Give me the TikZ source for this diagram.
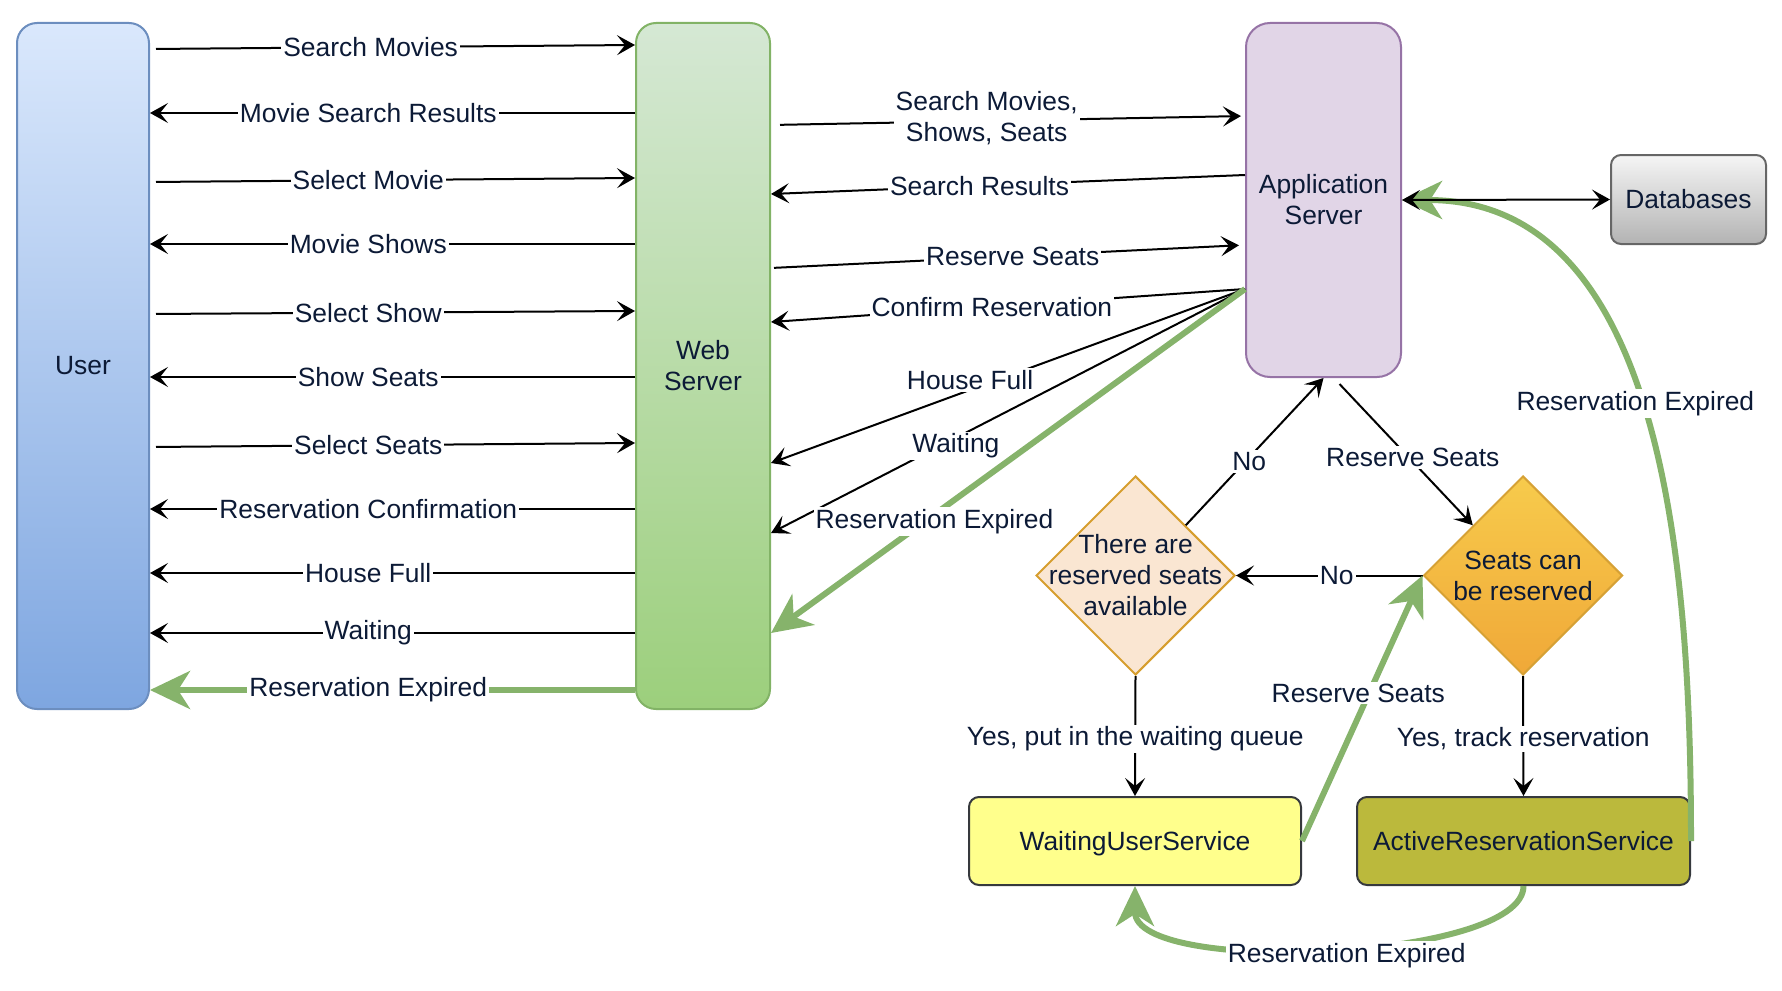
\documentclass[tikz,border=0pt]{standalone}
\usepackage{fontspec}
\setmainfont{Liberation Sans}
\usetikzlibrary{arrows.meta,shapes.geometric}

\definecolor{ink}{HTML}{0C1A36}
\definecolor{grn}{HTML}{86B36B}
\definecolor{usertop}{HTML}{DAE8FC}
\definecolor{userbot}{HTML}{7EA6E0}
\definecolor{userline}{HTML}{6C8EBF}
\definecolor{webtop}{HTML}{D5E8D4}
\definecolor{webbot}{HTML}{9CCF7C}
\definecolor{webline}{HTML}{82B366}
\definecolor{appfill}{HTML}{E1D5E7}
\definecolor{appline}{HTML}{9673A6}
\definecolor{dbtop}{HTML}{F5F5F5}
\definecolor{dbbot}{HTML}{B3B3B3}
\definecolor{dbline}{HTML}{666666}
\definecolor{peach}{HTML}{FAE6D2}
\definecolor{peachline}{HTML}{D69E2E}
\definecolor{seattop}{HTML}{F7CB4C}
\definecolor{seatbot}{HTML}{F0A838}
\definecolor{seatline}{HTML}{D6A135}
\definecolor{waitfill}{HTML}{FFFF8C}
\definecolor{actfill}{HTML}{BBB93C}
\definecolor{svcline}{HTML}{36393D}

\begin{document}
\begin{tikzpicture}[x=0.5pt,y=-0.5pt,>={Stealth[length=9pt,width=10pt,inset=4pt]},
  font=\fontsize{13.2}{15.5}\selectfont, text=ink,
  box/.style={draw, line width=1pt, align=center, inner sep=0pt},
  dia/.style={shape=diamond, draw, line width=1pt, inner sep=0pt, minimum width=99.5pt, minimum height=99.5pt},
  lbl/.style={fill=white, inner sep=1pt, align=center},
  msg/.style={->, line width=1pt},
  expired/.style={-{Stealth[length=20pt,width=19pt,inset=6pt]}, draw=grn, line width=3pt}]
   \useasboundingbox (0,0) rectangle (1782,990);

   % ノード
   \node[box, rounded corners=10pt, draw=userline, top color=usertop, bottom color=userbot,
         minimum width=66pt, minimum height=343pt] (user) at (83,366) {User};
   \node[box, rounded corners=10pt, draw=webline, top color=webtop, bottom color=webbot,
         minimum width=67pt, minimum height=343pt] (web) at (703,366) {Web\\Server};
   \node[box, rounded corners=12pt, draw=appline, fill=appfill,
         minimum width=77.5pt, minimum height=177pt] (app) at (1323.5,200) {Application\\Server};
   \node[box, rounded corners=5pt, draw=dbline, top color=dbtop, bottom color=dbbot,
         minimum width=77.5pt, minimum height=44.5pt] (db) at (1688.5,199.5) {Databases};
   \node[dia, draw=peachline, fill=peach,
         label={[align=center]center:There are\\reserved seats\\available}] (avail) at (1135.5,575.5) {};
   \node[dia, draw=seatline, top color=seattop, bottom color=seatbot,
         label={[align=center]center:Seats can\\be reserved}] (seats) at (1523,575.5) {};
   \node[box, rounded corners=5pt, draw=svcline, fill=waitfill, text depth=0pt,
         minimum width=166pt, minimum height=44pt] (wait) at (1135,841) {WaitingUserService};
   \node[box, rounded corners=5pt, draw=svcline, fill=actfill,
         minimum width=166.5pt, minimum height=44pt] (act) at (1523.5,841) {ActiveReservationService};

   % ユーザーとWebサーバー
   \draw[msg, shorten <=3pt] (user.east |- 0,49) -- node[lbl, pos=0.455] {Search Movies} (web.west |- 0,45);
   \draw[msg] (web.west |- 0,113) -- node[lbl, pos=0.55] {Movie Search Results} (user.east |- 0,113);
   \draw[msg, shorten <=3pt] (user.east |- 0,182) -- node[lbl, pos=0.45] {Select Movie} (web.west |- 0,178);
   \draw[msg] (web.west |- 0,244) -- node[lbl, pos=0.55] {Movie Shows} (user.east |- 0,244);
   \draw[msg, shorten <=3pt] (user.east |- 0,314) -- node[lbl, pos=0.45] {Select Show} (web.west |- 0,311);
   \draw[msg] (web.west |- 0,377) -- node[lbl, pos=0.55] {Show Seats} (user.east |- 0,377);
   \draw[msg, shorten <=3pt] (user.east |- 0,447) -- node[lbl, pos=0.45] {Select Seats} (web.west |- 0,443);
   \draw[msg] (web.west |- 0,509) -- node[lbl, pos=0.55] {Reservation Confirmation} (user.east |- 0,509);
   \draw[msg] (web.west |- 0,573) -- node[lbl, pos=0.55] {House Full} (user.east |- 0,573);
   \draw[msg] (web.west |- 0,633) -- node[lbl, pos=0.55] {Waiting} (user.east |- 0,633);
   \draw[expired] (web.west |- 0,690) -- node[lbl, pos=0.55] {Reservation Expired} (user.east |- 0,690);

   % Webサーバーとアプリケーションサーバー
   \draw[msg, shorten <=4.5pt, shorten >=2pt] (web.east |- 0,125) -- node[lbl, pos=0.455, yshift=1.5pt] {Search Movies,\\Shows, Seats} (app.west |- 0,116);
   \draw[msg] (app.west |- 0,175) -- node[lbl, pos=0.56] {Search Results} (web.east |- 0,194);
   \draw[msg, shorten <=1.5pt, shorten >=3pt] (web.east |- 0,268) -- node[lbl, pos=0.51] {Reserve Seats} (app.west |- 0,245);
   \coordinate (fan) at (app.west |- 0,289);
   \draw[msg] (fan) -- node[lbl, pos=0.534] {Confirm Reservation} (web.east |- 0,322);
   \draw[msg] (fan) -- node[lbl, pos=0.58, yshift=5pt] {House Full} (web.east |- 0,463);
   \draw[msg] (fan) -- node[lbl, pos=0.61, yshift=-4pt] {Waiting} (web.east |- 0,533);
   \draw[expired] (fan) -- node[lbl, pos=0.655, yshift=-3.5pt] {Reservation Expired} (web.east |- 0,633);

   % 予約の判定
   \draw[expired] (act.east) .. controls +(0,-273) and +(262,0) .. node[lbl, pos=0.51, xshift=-3.5pt, yshift=3.5pt] {Reservation Expired} (app.east);
   \draw[<->, line width=1pt] (app.east) -- (db.west);
   \draw[msg] (avail.north east) -- node[lbl, pos=0.46, yshift=-2pt] {No} (app.south);
   \draw[msg] ([xshift=8pt,yshift=-3pt]app.south) -- node[lbl, pos=0.55, yshift=2pt] {Reserve Seats} (seats.north west);
   \draw[msg] (seats.west) -- node[lbl, pos=0.46] {No} (avail.east);
   \draw[msg] (avail.south) -- node[lbl, yshift=-1.5pt] {Yes, put in the waiting queue} (wait.north);
   \draw[msg] (seats.south) -- node[lbl, yshift=-1.5pt] {Yes, track reservation} (act.north);
   \draw[expired] (wait.east) -- node[lbl, pos=0.55, xshift=-5pt, yshift=1pt] {Reserve Seats} (seats.west);
   \draw[expired] (act.south) .. controls +(0,75) and +(0,90) .. node[lbl, pos=0.47, yshift=-4pt] {Reservation Expired} (wait.south);

\end{tikzpicture}
\end{document}
